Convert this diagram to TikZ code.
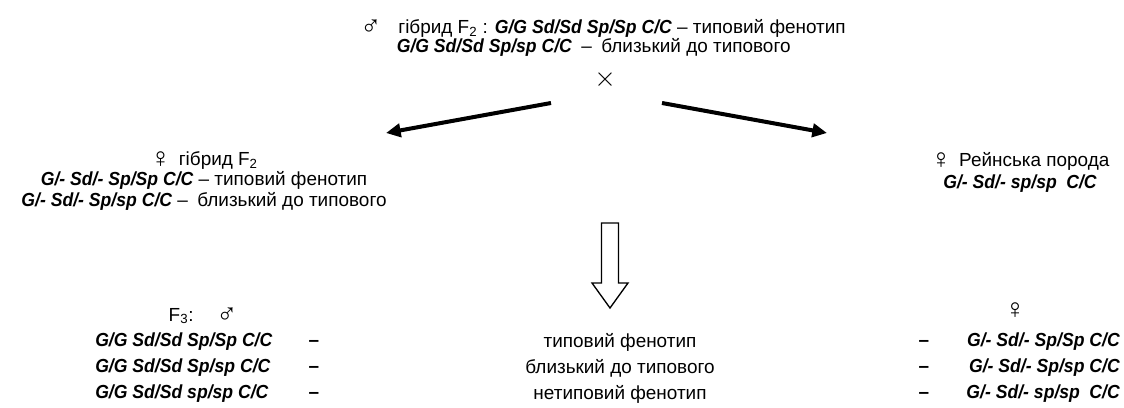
\documentclass[tikz,border=0pt]{standalone}
\usepackage{fontspec}
\setmainfont{Liberation Sans}
\newfontfamily\genfont{Liberation Sans}[FakeStretch=0.93]
\usepackage{tikz}
\usetikzlibrary{arrows.meta}

\newcommand{\genot}[1]{{\genfont\bfseries\itshape #1}}
\newcommand{\sexsym}[1]{\raisebox{-1.5pt}[0pt][0pt]{\fontsize{21}{21}\selectfont #1}}
\tikzset{
  txt/.style={inner sep=0pt, align=center, font=\fontsize{14.2}{15.4}\selectfont},
  cross/.style={line width=3pt, -{Triangle[length=11pt,width=10pt]}},
}

\begin{document}
\begin{tikzpicture}[x=0.75pt,y=-0.75pt]
\useasboundingbox (0,0) rectangle (1124,407);
% parents
\node[txt, font=\fontsize{14.2}{13.8}\selectfont] (male) at (603,38)
  {\sexsym{♂}\hspace{0.9em}гібрид F\textsubscript{2} : \genot{G/G Sd/Sd Sp/Sp C/C} – типовий фенотип\\
   \hspace{-14pt}\genot{G/G Sd/Sd Sp/sp C/C}\enspace–\enspace близький до типового};
\node[txt, font=\fontsize{21}{21}\selectfont] (x) at (605,80) {$\times$};
\node[txt] (female) at (204,181)
  {\sexsym{♀}\hspace{0.4em}гібрид F\textsubscript{2}\\
   \genot{G/- Sd/- Sp/Sp C/C} – типовий фенотип\\
   \genot{G/- Sd/- Sp/sp C/C} –\enspace близький до типового};
\node[txt, font=\fontsize{14.2}{16.5}\selectfont] (rhine) at (1020,172)
  {\sexsym{♀}\hspace{0.4em}Рейнська порода\\ \genot{G/- Sd/- sp/sp\enspace C/C}};
\coordinate (lfrom) at (551,103);
\coordinate (lto) at (386,133);
\coordinate (rfrom) at (662,103);
\coordinate (rto) at (827,133);
\draw[cross] (lfrom) -- (lto);
\draw[cross] (rfrom) -- (rto);
% block arrow
\draw[line width=1pt, line join=miter] (601.5,223) -- (601.5,283) -- (592,283) -- (610,308)
  -- (628,283) -- (618.5,283) -- (618.5,223) -- cycle;
% offspring
\node[txt] (f3m) at (203,316) {F\textsubscript{3}:\hspace{1.2em}\sexsym{♂}};
\node[txt, align=left, anchor=west, font=\fontsize{14.2}{19.5}\selectfont] (sons) at (95,368)
  {\makebox[160pt][l]{\genot{G/G Sd/Sd Sp/Sp C/C}}\textbf{–}\\
   \makebox[160pt][l]{\genot{G/G Sd/Sd Sp/sp C/C}}\textbf{–}\\
   \makebox[160pt][l]{\genot{G/G Sd/Sd sp/sp C/C}}\textbf{–}};
\node[txt, font=\fontsize{14.2}{19.5}\selectfont] (pheno) at (620,368)
  {типовий фенотип\\ близький до типового\\ нетиповий фенотип};
\node[txt] (f3f) at (1015,316) {\sexsym{♀}};
\node[txt, align=right, anchor=east, font=\fontsize{14.2}{19.5}\selectfont] (daughters) at (1120,368)
  {\textbf{–}\makebox[143pt][r]{\genot{G/- Sd/- Sp/Sp C/C}}\\
   \textbf{–}\makebox[143pt][r]{\genot{G/- Sd/- Sp/sp C/C}}\\
   \textbf{–}\makebox[143pt][r]{\genot{G/- Sd/- sp/sp\enspace C/C}}};
\end{tikzpicture}
\end{document}
